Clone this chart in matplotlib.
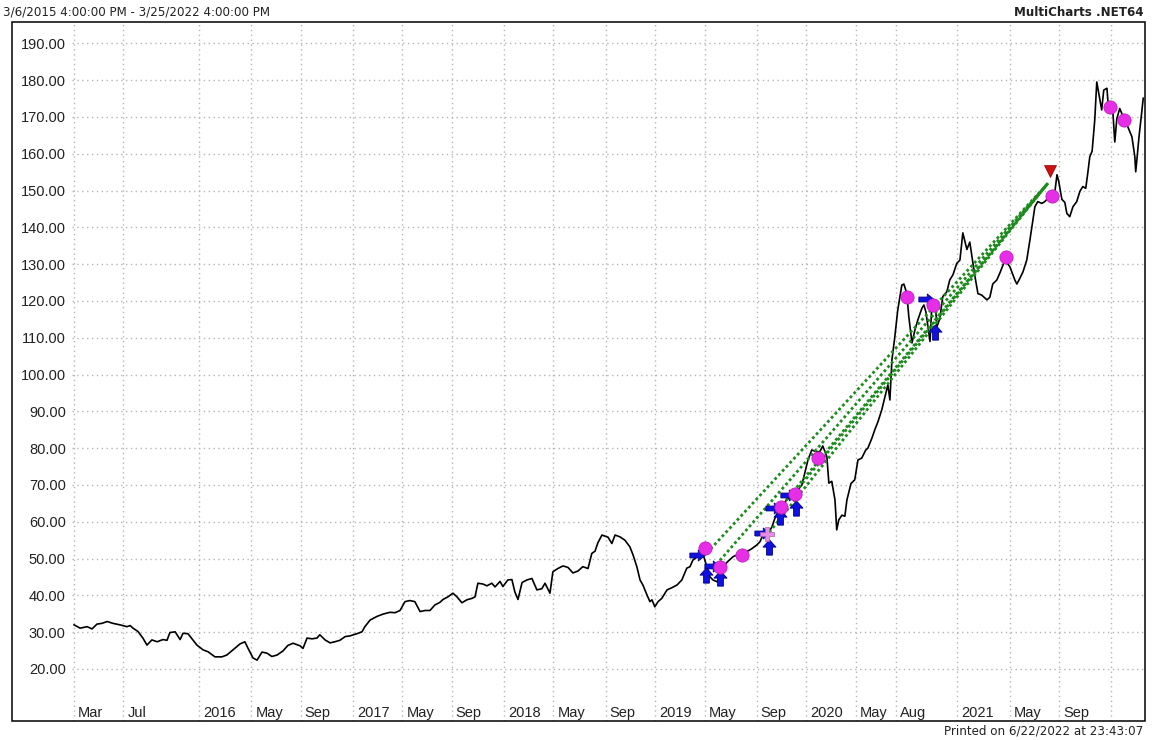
import numpy as np
import pandas as pd
import matplotlib
matplotlib.use("Agg")
import matplotlib.pyplot as plt
import matplotlib.transforms as mtransforms
from matplotlib.patches import Rectangle
from matplotlib.ticker import FormatStrFormatter

# ========= DATA ===============================
START = pd.Timestamp("2015-03-06")

# position of each traced point in weeks after the first bar, and the close
weeks = [
    0.0, 2.1, 4.5, 6.2, 7.9, 9.6, 11.4, 13.4, 15.8, 18.2, 19.3, 20.3, 22.0, 23.7,
    25.1, 26.8, 28.6, 30.6, 32.0, 33.0, 34.8, 36.5, 37.5, 39.2, 40.6, 42.3, 44.4,
    46.1, 48.5, 50.9, 52.6, 54.7, 57.1, 58.8, 59.9, 61.6, 63.0, 64.7, 66.4, 68.1,
    69.9, 71.9, 73.6, 75.4, 77.8, 78.8, 80.2, 81.9, 83.6, 84.6, 86.4, 88.1, 89.8,
    91.5, 93.3, 95.0, 97.4, 99.1, 100.1, 101.9, 104.3, 106.3, 108.7, 110.5, 112.2,
    113.9, 115.6, 117.3, 119.1, 120.8, 122.5, 124.2, 125.9, 127.0, 128.7, 130.4,
    131.8, 133.5, 135.2, 137.0, 138.0, 139.0, 140.7, 142.1, 143.8, 144.9, 146.6,
    147.6, 149.3, 150.7, 151.7, 152.8, 154.2, 155.9, 157.6, 159.3, 161.0, 162.1,
    163.8, 164.8, 166.5, 168.3, 170.0, 171.7, 173.4, 175.1, 176.9, 178.2, 179.3,
    180.3, 181.7, 183.8, 185.1, 186.2, 187.9, 189.6, 191.3, 192.4, 193.7, 194.8,
    195.8, 197.2, 198.2, 198.9, 199.9, 201.0, 202.3, 204.1, 205.8, 207.5, 209.2,
    210.9, 212.0, 213.0, 214.4, 215.4, 216.4, 217.8, 218.8, 219.9, 221.3, 222.3,
    223.3, 225.0, 226.8, 228.1, 229.9, 231.6, 233.3, 235.0, 236.1, 237.1, 238.8,
    240.2, 241.2, 242.9, 244.0, 245.3, 246.4, 248.1, 249.1, 250.5, 251.5, 252.6,
    253.9, 255.7, 256.7, 257.7, 259.1, 259.8, 260.8, 261.9, 262.5, 263.2, 264.3,
    265.3, 266.0, 267.4, 268.7, 269.8, 271.1, 272.5, 273.2, 274.6, 275.6, 276.7,
    278.0, 279.1, 280.1, 280.8, 281.5, 282.5, 283.5, 284.9, 285.6, 286.6, 287.3,
    288.4, 289.4, 290.4, 291.8, 292.5, 293.2, 293.9, 294.6, 295.2, 296.3, 297.0,
    298.0, 299.0, 300.4, 301.4, 302.5, 303.8, 304.9, 305.9, 307.3, 308.3, 310.0,
    311.1, 312.4, 314.2, 315.2, 316.2, 317.6, 318.6, 320.4, 322.1, 323.8, 324.5,
    325.5, 326.6, 327.9, 329.0, 330.0, 330.7, 331.7, 333.1, 334.1, 335.2, 336.5,
    337.6, 338.3, 338.9, 340.0, 341.0, 341.7, 342.7, 343.8, 345.1, 346.2, 347.2,
    348.2, 348.9, 349.6, 350.4, 351.3, 352.0, 352.7, 353.7, 354.4, 355.5, 355.9,
    356.8, 357.5, 358.2, 358.9, 359.9, 361.0, 361.6, 362.7, 364.1, 365.1, 365.4,
    365.8, 366.5, 368.0,
]
close = [
    32.0, 31.1, 31.5, 30.9, 32.2, 32.4, 32.9, 32.4, 32.0, 31.5, 31.8, 31.1, 30.2, 28.4,
    26.5, 27.9, 27.4, 28.0, 27.8, 29.9, 30.1, 28.0, 29.7, 29.6, 28.2, 26.5, 25.2,
    24.7, 23.3, 23.3, 23.8, 25.2, 26.8, 27.4, 25.6, 23.0, 22.4, 24.6, 24.3, 23.4,
    23.8, 24.9, 26.4, 27.0, 26.3, 25.6, 28.4, 28.2, 28.4, 29.3, 27.9, 27.1, 27.4,
    27.8, 28.8, 29.0, 29.6, 30.1, 31.5, 33.3, 34.3, 34.9, 35.4, 35.3, 35.9,
    38.3, 38.6, 38.3, 35.6, 35.9, 35.9, 37.4, 38.1, 38.9, 39.6, 40.6,
    39.6, 38.0, 38.8, 39.2, 39.6, 43.3, 43.1, 42.6, 43.3, 42.3, 43.8,
    42.4, 44.2, 44.3, 41.0, 38.9, 43.5, 44.2, 44.6, 41.5, 41.8, 43.3,
    40.6, 46.4, 47.3, 48.0, 47.6, 46.1, 46.6, 47.8, 47.3, 51.4, 52.0,
    54.3, 56.4, 55.8, 54.1, 56.4, 55.9, 55.0, 53.2, 51.0, 47.8, 44.2,
    42.8, 40.1, 38.3, 38.8, 36.9, 38.3, 39.2, 41.5, 42.1, 42.8, 44.2,
    47.4, 47.8, 49.6, 50.5, 51.2, 51.4, 47.8, 45.1, 44.2, 43.7, 45.1,
    47.8, 49.2, 50.5, 51.0, 51.0, 51.9, 52.7, 53.7, 54.6, 56.4, 56.8,
    58.6, 60.9, 63.6, 64.9, 65.9, 66.8, 67.7, 68.6, 70.0, 73.2, 76.8,
    79.5, 79.0, 79.1, 80.6, 77.7, 70.5, 71.0, 65.9, 57.8, 60.5, 61.8,
    61.5, 65.9, 70.4, 71.4, 76.8, 77.3, 79.5, 80.0, 82.7, 85.0, 87.2,
    90.4, 94.0, 97.2, 93.1, 104.0, 110.3, 117.5, 124.3, 124.6, 122.1, 115.8,
    108.6, 112.1, 114.8, 118.0, 118.9, 117.0, 113.0, 109.0, 118.0, 120.3, 113.0,
    115.3, 121.2, 122.5, 125.7, 127.1, 130.2, 131.1, 138.5, 134.0, 136.0, 127.0,
    122.0, 121.6, 120.3, 121.0, 124.6, 125.7, 127.5, 131.1, 129.3, 125.7, 124.6,
    126.1, 127.9, 131.1, 136.6, 142.0, 145.6, 147.0, 146.5, 147.0, 147.9, 148.5,
    149.8, 154.3, 152.5, 147.6, 146.8, 143.8, 142.9, 145.6, 147.0, 149.8, 151.1,
    150.6, 154.7, 159.2, 160.7, 169.1, 179.5, 176.4, 171.9, 177.3, 177.8, 173.6,
    172.3, 171.9, 163.2, 169.5, 172.3, 170.2, 168.9, 167.3, 164.6, 159.2, 155.1,
    158.3, 164.3, 175.1,
]

# trade markers (weeks after first bar, price)
entry_right_w = [214.4, 219.5, 236.7, 240.5, 245.7, 293.2]
entry_right_v = [51.0, 48.0, 57.0, 63.8, 67.3, 120.4]
entry_up_w = [217.5, 222.3, 239.2, 242.9, 248.4, 296.3]
entry_up_v = [45.5, 44.7, 53.2, 61.3, 63.7, 111.7]
exit_dot_w = [217.1, 222.3, 229.9, 243.3, 248.1, 256.0, 286.6, 295.6, 320.7, 336.5, 356.5, 361.3]
exit_dot_v = [53.0, 47.8, 51.0, 64.0, 67.6, 77.2, 121.0, 118.9, 131.9, 148.4, 172.6, 169.2]
pink_w = [238.5]
pink_v = [56.6]
short_w = [335.8]
short_v = [155.3]

# trade lines: several entries closed at one exit
trade_in_w = [217.8, 222.3, 238.1, 242.6, 247.1]
trade_in_v = [51.5, 49.5, 56.0, 63.5, 67.0]
trade_out_w = 335.2
trade_out_v = 152.0

y_ticks = list(range(20, 191, 10))
tick_months = ["2015-03-01", "2015-07-01", "2016-01-01", "2016-05-01", "2016-09-01",
               "2017-01-01", "2017-05-01", "2017-09-01", "2018-01-01", "2018-05-01",
               "2018-09-01", "2019-01-01", "2019-05-01", "2019-09-01", "2020-01-01",
               "2020-05-01", "2020-08-01", "2021-01-01", "2021-05-01", "2021-09-01",
               "2022-01-01"]
tick_text = ["Mar", "Jul", "2016", "May", "Sep", "2017", "May", "Sep", "2018", "May",
             "Sep", "2019", "May", "Sep", "2020", "May", "Aug", "2021", "May", "Sep", ""]
# ==============================================


def to_date(w):
    return START + pd.to_timedelta(np.asarray(w, dtype=float) * 7, unit="D")


def first_bar(month):
    d = (pd.Timestamp(month) - START).days
    return START + pd.Timedelta(days=7 * int(np.ceil(d / 7)))


W, H = 1153, 740
fig = plt.figure(figsize=(W / 100, H / 100), dpi=100)
fig.patch.set_facecolor("white")
ax = fig.add_axes([72 / W, 19 / H, (1145 - 72) / W, (721 - 22) / H])
fig.patches.append(Rectangle((12 / W, 19 / H), (1145 - 12) / W, (721 - 22) / H,
                             transform=fig.transFigure, fill=False,
                             edgecolor="black", linewidth=1.1, zorder=10))

# price
ax.plot(to_date(weeks), close, color="black", linewidth=1.2, zorder=3)

# trade lines
for w0, v0 in zip(trade_in_w, trade_in_v):
    ax.plot(to_date([w0, trade_out_w]), [v0, trade_out_v], color="#1d8a1d",
            linewidth=2.0, linestyle=(0, (1, 1)), zorder=4)

# markers
right_arrow = [(-1, -0.32), (0.1, -0.32), (0.1, -0.72), (1, 0), (0.1, 0.72),
               (0.1, 0.32), (-1, 0.32), (-1, -0.32)]
up_arrow = [(-0.38, -1), (0.38, -1), (0.38, 0.05), (0.85, 0.05), (0, 1), (-0.85, 0.05),
            (-0.38, 0.05), (-0.38, -1)]

ax.plot(to_date(entry_right_w), entry_right_v, linestyle="none", marker=right_arrow,
        markersize=11, color="#1010e0", markeredgecolor="#000080", markeredgewidth=0.6, zorder=6)
ax.plot(to_date(entry_up_w), entry_up_v, linestyle="none", marker=up_arrow,
        markersize=11, color="#1010e0", markeredgecolor="#000080", markeredgewidth=0.6, zorder=6)
ax.plot(to_date(exit_dot_w), exit_dot_v, linestyle="none", marker="o",
        markersize=9.5, color="#e62ee6", markeredgecolor="#c020c0", markeredgewidth=0.6, zorder=7)
ax.plot(to_date(pink_w), pink_v, linestyle="none", marker="P",
        markersize=10, color="#e58ce5", markeredgecolor="#b060b0", markeredgewidth=0.5, zorder=7)
ax.plot(to_date(short_w), short_v, linestyle="none", marker="v",
        markersize=8.5, color="#d01010", markeredgecolor="#900000", markeredgewidth=0.5, zorder=7)

# axes
ax.set_xlim(to_date([-0.7])[0], to_date([368.6])[0])
ax.set_ylim(5.87, 195.8)
for s in ax.spines.values():
    s.set_visible(False)

ax.set_yticks(y_ticks)
ax.yaxis.set_major_formatter(FormatStrFormatter("%.2f"))
ax.tick_params(axis="y", length=0, pad=4.5, labelsize=10.5, labelcolor="#222222")
for lbl in ax.get_yticklabels():
    lbl.set_family(["Liberation Sans", "DejaVu Sans"])

ticks = [first_bar(m) for m in tick_months]
ax.set_xticks(ticks)
ax.set_xticklabels([])
ax.tick_params(axis="x", length=0)

ax.grid(True, color="#b5b5b5", linestyle=(0, (1, 2.5)), linewidth=1.0)
ax.set_axisbelow(True)

lbl_trans = mtransforms.offset_copy(
    mtransforms.blended_transform_factory(ax.transData, ax.transAxes),
    fig=fig, x=4, y=0, units="dots")
for t, txt in zip(ticks, tick_text):
    ax.text(t, 8 / 699, txt, transform=lbl_trans, ha="left", va="center",
            fontsize=10.5, color="#222222", family=["Liberation Sans", "DejaVu Sans"])

# header / footer
fig.text(3 / W, 1 - 12 / H, "3/6/2015 4:00:00 PM - 3/25/2022 4:00:00 PM",
         ha="left", va="center", fontsize=8.6, color="#222222", family="DejaVu Sans")
fig.text(1143 / W, 1 - 12 / H, "MultiCharts .NET64", ha="right", va="center",
         fontsize=8.6, fontweight="bold", color="#222222", family="DejaVu Sans")
fig.text(1143 / W, 1 - 731 / H, "Printed on 6/22/2022 at 23:43:07", ha="right",
         va="center", fontsize=8.6, color="#222222", family="DejaVu Sans")

fig.savefig("out.png", dpi=100)
